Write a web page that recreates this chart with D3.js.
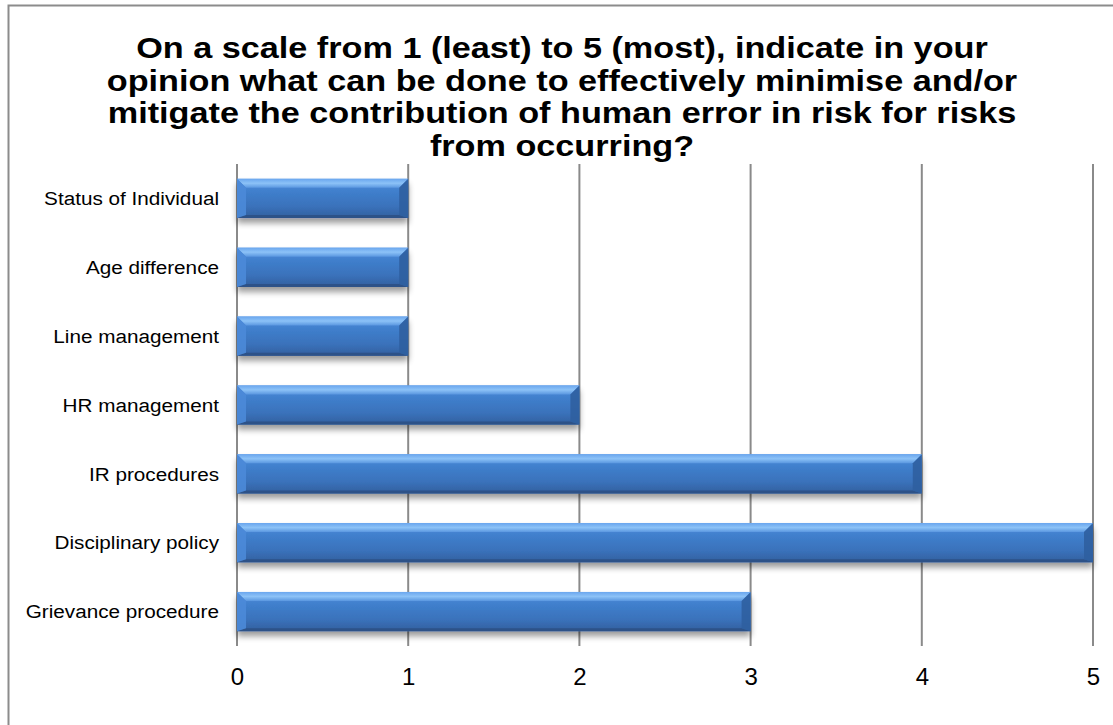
<!DOCTYPE html>
<html>
<head>
<meta charset="utf-8">
<script src="https://cdn.jsdelivr.net/npm/d3@7"></script>
<style>
  html, body { margin: 0; padding: 0; background: #fff; }
  svg { display: block; }
</style>
</head>
<body>
<svg id="chart" width="1113" height="725"></svg>
<script>
// Survey responses: score per factor (1 = least, 5 = most)
const categories = [
  "Status of Individual",
  "Age difference",
  "Line management",
  "HR management",
  "IR procedures",
  "Disciplinary policy",
  "Grievance procedure"
];
const scores = [1, 1, 1, 2, 4, 5, 3];
const tickValues = [0, 1, 2, 3, 4, 5];
const titleLines = [
  "On a scale from 1 (least) to 5 (most), indicate in your",
  "opinion what can be done to effectively minimise and/or",
  "mitigate the contribution of human error in risk for risks",
  "from occurring?"
];

const svg = d3.select("#chart");
const font = "'Liberation Sans', Arial, Helvetica, sans-serif";

// Outer frame (only top and left edges fall inside the view)
svg.append("path")
  .attr("d", "M8.5,725 L8.5,5.5 L1113,5.5")
  .attr("fill", "none")
  .attr("stroke", "#8c8c8c")
  .attr("stroke-width", 2);

// Title, set slightly wide
svg.append("g")
  .attr("transform", "translate(562,0) scale(1.18,1)")
  .selectAll("text")
  .data(titleLines)
  .join("text")
  .attr("x", 0)
  .attr("y", (d, i) => 58 + i * 32.7)
  .attr("text-anchor", "middle")
  .attr("font-family", font)
  .attr("font-weight", "bold")
  .attr("font-size", 29)
  .attr("fill", "#000")
  .text(d => d);

const x = d3.scaleLinear().domain([0, 5]).range([237, 1093]);
const y = d3.scaleBand().domain(categories).range([164, 646])
  .paddingInner(0.43).paddingOuter(0.215);

const defs = svg.append("defs");

const grad = defs.append("linearGradient")
  .attr("id", "barFill").attr("x1", 0).attr("y1", 0).attr("x2", 0).attr("y2", 1);
[[0, "#5f9ce6"], [0.12, "#4a88d6"], [0.35, "#3f7ecb"], [0.7, "#3a72bb"], [1, "#335f9e"]]
  .forEach(([o, c]) => grad.append("stop").attr("offset", o).attr("stop-color", c));

const topGrad = defs.append("linearGradient")
  .attr("id", "topBevel").attr("x1", 0).attr("y1", 0).attr("x2", 0).attr("y2", 1);
[[0, "#6aa6ee"], [0.5, "#8cc2f7"], [1, "#5a97e0"]]
  .forEach(([o, c]) => topGrad.append("stop").attr("offset", o).attr("stop-color", c));

const shadow = defs.append("filter").attr("id", "barShadow")
  .attr("x", "-5%").attr("y", "-30%").attr("width", "110%").attr("height", "170%");
shadow.append("feGaussianBlur").attr("in", "SourceAlpha").attr("stdDeviation", 3);
shadow.append("feOffset").attr("dx", 0).attr("dy", 5).attr("result", "blur");
shadow.append("feComponentTransfer").append("feFuncA").attr("type", "linear").attr("slope", 0.4);
const merge = shadow.append("feMerge");
merge.append("feMergeNode");
merge.append("feMergeNode").attr("in", "SourceGraphic");

// Vertical gridlines
svg.append("g").selectAll("line")
  .data(tickValues)
  .join("line")
  .attr("x1", d => x(d)).attr("x2", d => x(d))
  .attr("y1", 164).attr("y2", 646)
  .attr("stroke", "#8a8a8a")
  .attr("stroke-width", 2);

// Bars with bevelled edges
const b = 9;
const bars = svg.append("g").selectAll("g")
  .data(categories.map((c, i) => ({ c, v: scores[i] })))
  .join("g");

bars.append("rect")
  .attr("x", x(0))
  .attr("y", d => y(d.c))
  .attr("width", d => x(d.v) - x(0))
  .attr("height", y.bandwidth())
  .attr("fill", "url(#barFill)")
  .attr("filter", "url(#barShadow)");

function bevel(d, side) {
  const x0 = x(0), x1 = x(d.v), y0 = y(d.c), y1 = y0 + y.bandwidth();
  const pts = {
    top: [[x0, y0], [x1, y0], [x1 - b, y0 + b], [x0 + b, y0 + b]],
    bottom: [[x0, y1], [x1, y1], [x1 - b, y1 - 3], [x0 + b, y1 - 3]],
    left: [[x0, y0], [x0 + b, y0 + b], [x0 + b, y1 - 3], [x0, y1]],
    right: [[x1, y0], [x1 - b, y0 + b], [x1 - b, y1 - 3], [x1, y1]]
  }[side];
  return "M" + pts.map(p => p.join(",")).join("L") + "Z";
}

bars.append("path").attr("d", d => bevel(d, "top")).attr("fill", "url(#topBevel)");
bars.append("path").attr("d", d => bevel(d, "bottom")).attr("fill", "#2d5288");
bars.append("path").attr("d", d => bevel(d, "left")).attr("fill", "#4b8ad8").attr("opacity", 0.9);
bars.append("path").attr("d", d => bevel(d, "right")).attr("fill", "#2f5fa0").attr("opacity", 0.9);

// Category labels
svg.append("g")
  .attr("transform", "translate(219,0) scale(1.09,1)")
  .selectAll("text")
  .data(categories)
  .join("text")
  .attr("x", 0)
  .attr("y", d => y(d) + y.bandwidth() / 2)
  .attr("dy", "0.35em")
  .attr("text-anchor", "end")
  .attr("font-family", font)
  .attr("font-size", 19)
  .attr("fill", "#000")
  .text(d => d);

// Value axis labels
const xAxis = d3.axisBottom(x).tickValues(tickValues).tickSize(0).tickPadding(0).tickFormat(d3.format("d"));
const axisG = svg.append("g").attr("transform", "translate(0,668)").call(xAxis);
axisG.select(".domain").remove();
axisG.selectAll("text")
  .attr("font-family", font)
  .attr("font-size", 24)
  .attr("fill", "#000");
</script>
</body>
</html>
